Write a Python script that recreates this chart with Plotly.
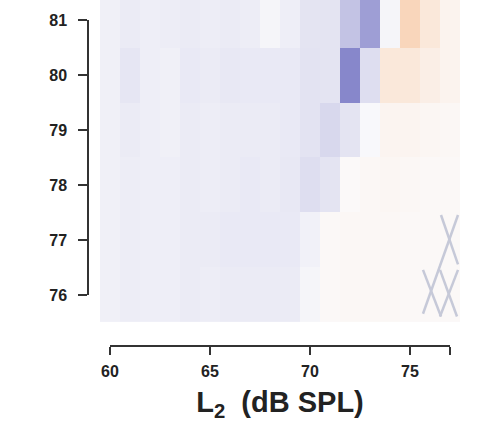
import plotly.graph_objects as go

# Data
l2_levels = list(range(60, 78))          # x categories (dB SPL)
l1_levels = [76, 77, 78, 79, 80, 81]     # y categories
# values (negative -> purple, positive -> orange), rows bottom (76) to top (81)
row_76 = [-0.07, -0.09, -0.08, -0.08, -0.10, -0.09, -0.10, -0.10, -0.10, -0.10, -0.04, 0.03, 0.04, 0.04, 0.04, 0.03, 0.03, 0.03]
row_77 = [-0.07, -0.09, -0.08, -0.08, -0.10, -0.10, -0.11, -0.11, -0.11, -0.11, -0.06, 0.03, 0.04, 0.04, 0.04, 0.03, 0.03, 0.03]
row_78 = [-0.07, -0.09, -0.08, -0.08, -0.10, -0.09, -0.10, -0.11, -0.10, -0.12, -0.18, -0.14, 0.02, 0.04, 0.05, 0.04, 0.03, 0.03]
row_79 = [-0.07, -0.10, -0.08, -0.07, -0.10, -0.09, -0.10, -0.10, -0.10, -0.11, -0.15, -0.22, -0.14, -0.02, 0.07, 0.07, 0.05, 0.04]
row_80 = [-0.07, -0.13, -0.08, -0.07, -0.11, -0.10, -0.12, -0.11, -0.11, -0.11, -0.15, -0.14, -0.72, -0.18, 0.20, 0.20, 0.13, 0.08]
row_81 = [-0.07, -0.10, -0.08, -0.09, -0.10, -0.09, -0.10, -0.09, -0.04, -0.08, -0.14, -0.14, -0.35, -0.58, -0.04, 0.38, 0.20, 0.08]
z_values = [row_76, row_77, row_78, row_79, row_80, row_81]

x_tick_vals = [60, 65, 70, 75, 77]
x_tick_text = ["60", "65", "70", "75", ""]
y_tick_vals = [76, 77, 78, 79, 80, 81]

# cross-hatch marks (no-data cells)
cross_lines = [
    ((76.55, 77.45), (77.4, 76.55)),
    ((77.4, 77.45), (75.65, 75.65)),
    ((75.65, 76.45), (76.55, 75.6)),
    ((77.4, 76.45), (76.5, 75.6)),
    ((76.5, 76.45), (77.35, 75.6)),
]

fig = go.Figure()
fig.add_trace(go.Heatmap(
    x=l2_levels, y=l1_levels, z=z_values,
    zmin=-1, zmax=1,
    colorscale=[[0, "#5a5ab8"], [0.5, "#fbfbfc"], [1, "#f59a50"]],
    showscale=False, xgap=0, ygap=0,
))

for (x0, y0), (x1, y1) in cross_lines:
    fig.add_shape(type="line", x0=x0, y0=y0, x1=x1, y1=y1, xref="x", yref="y",
                  line=dict(color="#c6c9d8", width=2.5))

# invisible trace to activate the offset R-style axes
fig.add_trace(go.Scatter(x=[60, 77], y=[76, 81], xaxis="x2", yaxis="y2",
                         mode="markers", marker=dict(opacity=0), hoverinfo="skip",
                         showlegend=False))

axis_font = dict(family="Liberation Sans, Arial, sans-serif", size=16, color="#222", weight="bold")
W, H = 496, 424
ml, mr, mt, mb = 88, 36, 0, 78
pw, ph = W - ml - mr, H - mt - mb

fig.update_layout(
    width=W, height=H,
    margin=dict(l=ml, r=mr, t=mt, b=mb, autoexpand=False),
    paper_bgcolor="white", plot_bgcolor="rgba(0,0,0,0)",
    showlegend=False,
    xaxis=dict(domain=[(100 - ml) / pw, 1], range=[59.5, 77.5], visible=False, fixedrange=True),
    yaxis=dict(domain=[(346 - 322) / ph, 1], range=[75.5, 81.37], visible=False, fixedrange=True),
    xaxis2=dict(domain=[(110 - ml) / pw, (450 - ml) / pw], range=[60, 77],
                anchor="free", position=0,
                showline=True, linecolor="#333", linewidth=1.5,
                ticks="outside", ticklen=8, tickwidth=1.5, tickcolor="#333",
                tickvals=x_tick_vals, ticktext=x_tick_text,
                tickfont=axis_font, showgrid=False, zeroline=False,
                ticklabelstandoff=3,
                title=dict(text="L<sub>2</sub>  (dB SPL)",
                           font=dict(family="Liberation Sans, Arial, sans-serif", size=29,
                                     color="#222", weight="bold"),
                           standoff=12)),
    yaxis2=dict(domain=[(346 - 295) / ph, (346 - 20) / ph], range=[76, 81],
                anchor="free", position=0,
                showline=True, linecolor="#333", linewidth=1.5,
                ticks="outside", ticklen=9, tickwidth=1.5, tickcolor="#333",
                tickvals=y_tick_vals,
                tickfont=axis_font, showgrid=False, zeroline=False,
                ticklabelstandoff=8),
)

fig.write_html("out.html")
